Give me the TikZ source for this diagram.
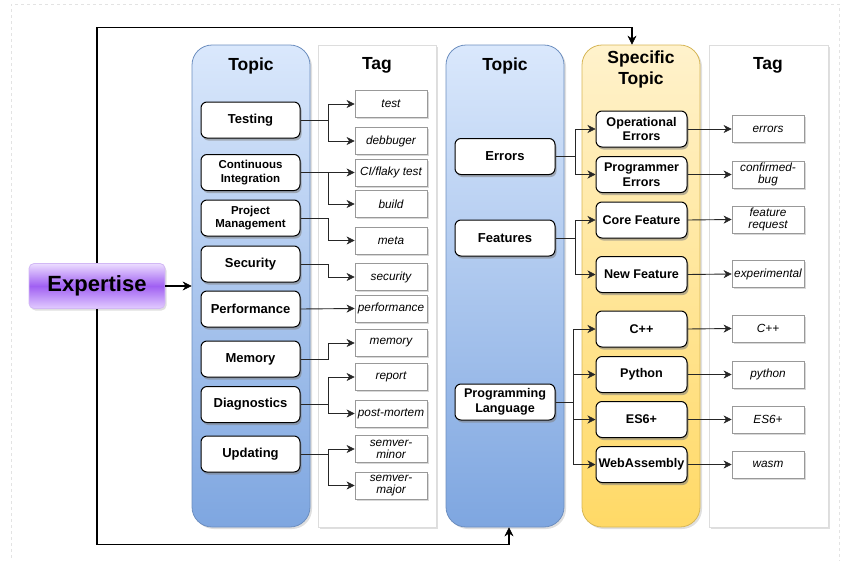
\documentclass[tikz,border=0pt]{standalone}
\usepackage{fontspec}
\setmainfont{Liberation Sans}
\usetikzlibrary{arrows.meta,shadows,calc}

\definecolor{blueTop}{HTML}{DAE8FC}
\definecolor{blueBot}{HTML}{7EA6E0}
\definecolor{blueLine}{HTML}{6C8EBF}
\definecolor{yelTop}{HTML}{FFF2CC}
\definecolor{yelBot}{HTML}{FFD966}
\definecolor{yelLine}{HTML}{D6B656}
\definecolor{tagLine}{HTML}{DDDDDD}
\definecolor{tagBox}{HTML}{999999}
\definecolor{frameGray}{HTML}{E3E3E3}
\definecolor{purTop}{HTML}{ECDDFF}
\definecolor{purMid}{HTML}{A060F2}
\definecolor{purBot}{HTML}{E2CCFF}
\definecolor{purLine}{HTML}{D2B8F5}

\tikzset{
  column/.style={rectangle, minimum width=118pt, minimum height=482pt,
    inner sep=0pt, line width=0.8pt},
  topiccol/.style={column, rounded corners=20pt, draw=blueLine,
    top color=blueTop, bottom color=blueBot,
    drop shadow={shadow xshift=2pt, shadow yshift=-2pt, opacity=0.25}},
  speccol/.style={column, rounded corners=20pt, draw=yelLine,
    top color=yelTop, bottom color=yelBot,
    drop shadow={shadow xshift=2pt, shadow yshift=-2pt, opacity=0.25}},
  tagcol/.style={column, draw=tagLine, fill=white,
    drop shadow={shadow xshift=2pt, shadow yshift=-2pt, opacity=0.25}},
  coltitle/.style={font=\fontsize{17.5}{20}\selectfont\bfseries, align=center},
  item/.style={rectangle, rounded corners=6pt, draw=black, line width=1pt,
    fill=white, minimum height=36pt, inner sep=1pt, align=center,
    font=\fontsize{13}{15}\selectfont\bfseries,
    drop shadow={shadow xshift=1.5pt, shadow yshift=-2.5pt, opacity=0.55}},
  smallitem/.style={item, font=\fontsize{11.5}{13.5}\selectfont\bfseries},
  miditem/.style={item, font=\fontsize{12.6}{14.5}\selectfont\bfseries},
  leftitem/.style={minimum width=99pt},
  midtopic/.style={minimum width=100pt},
  specitem/.style={minimum width=91pt},
  tagitem/.style={rectangle, draw=tagBox, line width=0.8pt, fill=white,
    minimum width=72pt, minimum height=27pt, inner sep=1pt, align=center,
    font=\fontsize{11.8}{12.5}\selectfont\itshape,
    drop shadow={shadow xshift=1.5pt, shadow yshift=-1.5pt, opacity=0.3}},
  twotag/.style={tagitem, font=\fontsize{11.8}{12.2}\selectfont\itshape},
  link/.style={draw=black!85, line width=0.9pt,
    -{Stealth[length=8pt 0, width=8pt 0, inset=2.5pt 0, line width=0.5pt]}},
  loop/.style={draw=black, line width=1.4pt,
    -{Stealth[length=9pt 0, width=9pt 0, inset=3pt 0, line width=0.5pt]}},
}

\begin{document}
\begin{tikzpicture}[x=1pt,y=-1pt]
\useasboundingbox (0,0) rectangle (841,560);

% light dashed page frame
\draw[frameGray, dashed, line width=0.6pt] (11,570) -- (11,4) -- (839,4) -- (839,570);

% columns
\node[topiccol] (col1) at (251,286) {};
\node[tagcol]   (tag1) at (377,286) {};
\node[topiccol] (col2) at (505,286) {};
\node[speccol]  (col3) at (641,286) {};
\node[tagcol, minimum width=119pt] (tag2) at (768.5,286) {};

\node[coltitle] (t1) at (251,65.5) {Topic};
\node[coltitle] (t2) at (377,65.5) {Tag};
\node[coltitle] (t3) at (505,65.5) {Topic};
\node[coltitle, font=\fontsize{17.5}{21}\selectfont\bfseries] (t4) at (641,69) {Specific\\Topic};
\node[coltitle] (t5) at (768,65.5) {Tag};

% expertise
\node[rectangle, rounded corners=5pt, draw=purLine, line width=0.8pt,
  minimum width=136pt, minimum height=45pt,
  top color=purTop, bottom color=purBot, middle color=purMid,
  font=\fontsize{22}{24}\selectfont\bfseries,
  drop shadow={shadow xshift=1.5pt, shadow yshift=-2pt, opacity=0.25}]
  (exp) at (97,286) {Expertise};

% left topic items
\node[item, leftitem] (testing) at (250.5,120) {Testing};
\node[smallitem, leftitem] (ci) at (250.5,172.5) {Continuous\\Integration};
\node[smallitem, leftitem] (pm) at (250.5,218) {Project\\Management};
\node[item, leftitem] (sec) at (250.5,264) {Security};
\node[item, leftitem] (perf) at (250.5,309) {Performance};
\node[item, leftitem] (mem) at (250.5,359) {Memory};
\node[item, leftitem] (diag) at (250.5,404.5) {Diagnostics};
\node[item, leftitem] (upd) at (250.5,454) {Updating};

% left tags
\node[tagitem] (gtest) at (391,104) {test};
\node[tagitem] (gdebug) at (391,141) {debbuger};
\node[tagitem] (gci) at (391,172.5) {CI/flaky test};
\node[tagitem] (gbuild) at (391,204) {build};
\node[tagitem] (gmeta) at (391,240.5) {meta};
\node[tagitem] (gsec) at (391,277) {security};
\node[tagitem] (gperf) at (391,308.5) {performance};
\node[tagitem] (gmem) at (391,343) {memory};
\node[tagitem] (grep) at (391,377) {report};
\node[tagitem] (gpm) at (391,413.5) {post-mortem};
\node[twotag] (gminor) at (391,449) {semver-\\minor};
\node[twotag] (gmajor) at (391,485.5) {semver-\\major};

% middle topic items
\node[item, midtopic] (err) at (505,156.5) {Errors};
\node[item, midtopic] (feat) at (505,238) {Features};
\node[miditem, midtopic] (lang) at (505,402) {Programming\\Language};

% specific topic items
\node[miditem, specitem] (operr) at (641.5,129) {Operational\\Errors};
\node[miditem, specitem] (prerr) at (641.5,174.5) {Programmer\\Errors};
\node[miditem, specitem] (core) at (641.5,220) {Core Feature};
\node[miditem, specitem] (newf) at (641.5,274.5) {New Feature};
\node[miditem, specitem] (cpp) at (641.5,329) {C++};
\node[miditem, specitem] (py) at (641.5,374.5) {Python};
\node[miditem, specitem] (es) at (641.5,419.5) {ES6+};
\node[miditem, specitem, inner sep=0pt] (wasm) at (641.5,464.5) {WebAssembly};

% right tags
\node[tagitem] (rerr) at (768,129) {errors};
\node[twotag] (rbug) at (768,174.5) {confirmed-\\bug};
\node[twotag] (rreq) at (768,219.5) {feature\\request};
\node[tagitem] (rexp) at (768,274) {experimental};
\node[tagitem] (rcpp) at (768,328.5) {C++};
\node[tagitem] (rpy) at (768,374.5) {python};
\node[tagitem] (res) at (768,419.5) {ES6+};
\node[tagitem] (rwasm) at (768,464.5) {wasm};

% topic -> tag connectors
\draw[link] (testing.east) -- ++(27.5,0) |- (gtest.west);
\draw[link] (testing.east) -- ++(27.5,0) |- (gdebug.west);
\draw[link] (ci.east) -- (gci.west);
\draw[link] (ci.east) -- ++(27.5,0) |- (gbuild.west);
\draw[link] (pm.east) -- ++(27.5,0) |- (gmeta.west);
\draw[link] (sec.east) -- ++(27.5,0) |- (gsec.west);
\draw[link] (perf.east) -- (gperf.west);
\draw[link] (mem.east) -- ++(27.5,0) |- (gmem.west);
\draw[link] (diag.east) -- ++(27.5,0) |- (grep.west);
\draw[link] (diag.east) -- ++(27.5,0) |- (gpm.west);
\draw[link] (upd.east) -- ++(27.5,0) |- (gminor.west);
\draw[link] (upd.east) -- ++(27.5,0) |- (gmajor.west);

% topic -> specific topic connectors
\draw[link] (err.east) -- ++(20,0) |- (operr.west);
\draw[link] (err.east) -- ++(20,0) |- (prerr.west);
\draw[link] (feat.east) -- ++(20,0) |- (core.west);
\draw[link] (feat.east) -- ++(20,0) |- (newf.west);
\draw[link] (lang.east) -- ++(18,0) |- (cpp.west);
\draw[link] (lang.east) -- ++(18,0) |- (py.west);
\draw[link] (lang.east) -- ++(18,0) |- (es.west);
\draw[link] (lang.east) -- ++(18,0) |- (wasm.west);

% specific topic -> tag connectors
\draw[link] (operr.east) -- (rerr.west);
\draw[link] (prerr.east) -- (rbug.west);
\draw[link] (core.east) -- (rreq.west);
\draw[link] (newf.east) -- (rexp.west);
\draw[link] (cpp.east) -- (rcpp.west);
\draw[link] (py.east) -- (rpy.west);
\draw[link] (es.east) -- (res.west);
\draw[link] (wasm.east) -- (rwasm.west);

% expertise connectors
\draw[loop] (exp.east) -- (col1.west);
\coordinate (topin) at ([xshift=-9pt]col3.north);
\coordinate (botin) at ([xshift=4pt]col2.south);
\draw[loop] (exp.north) |- ([yshift=17pt]topin) -- (topin);
\draw[loop] (exp.south) |- ([yshift=-17pt]botin) -- (botin);
\end{tikzpicture}
\end{document}
